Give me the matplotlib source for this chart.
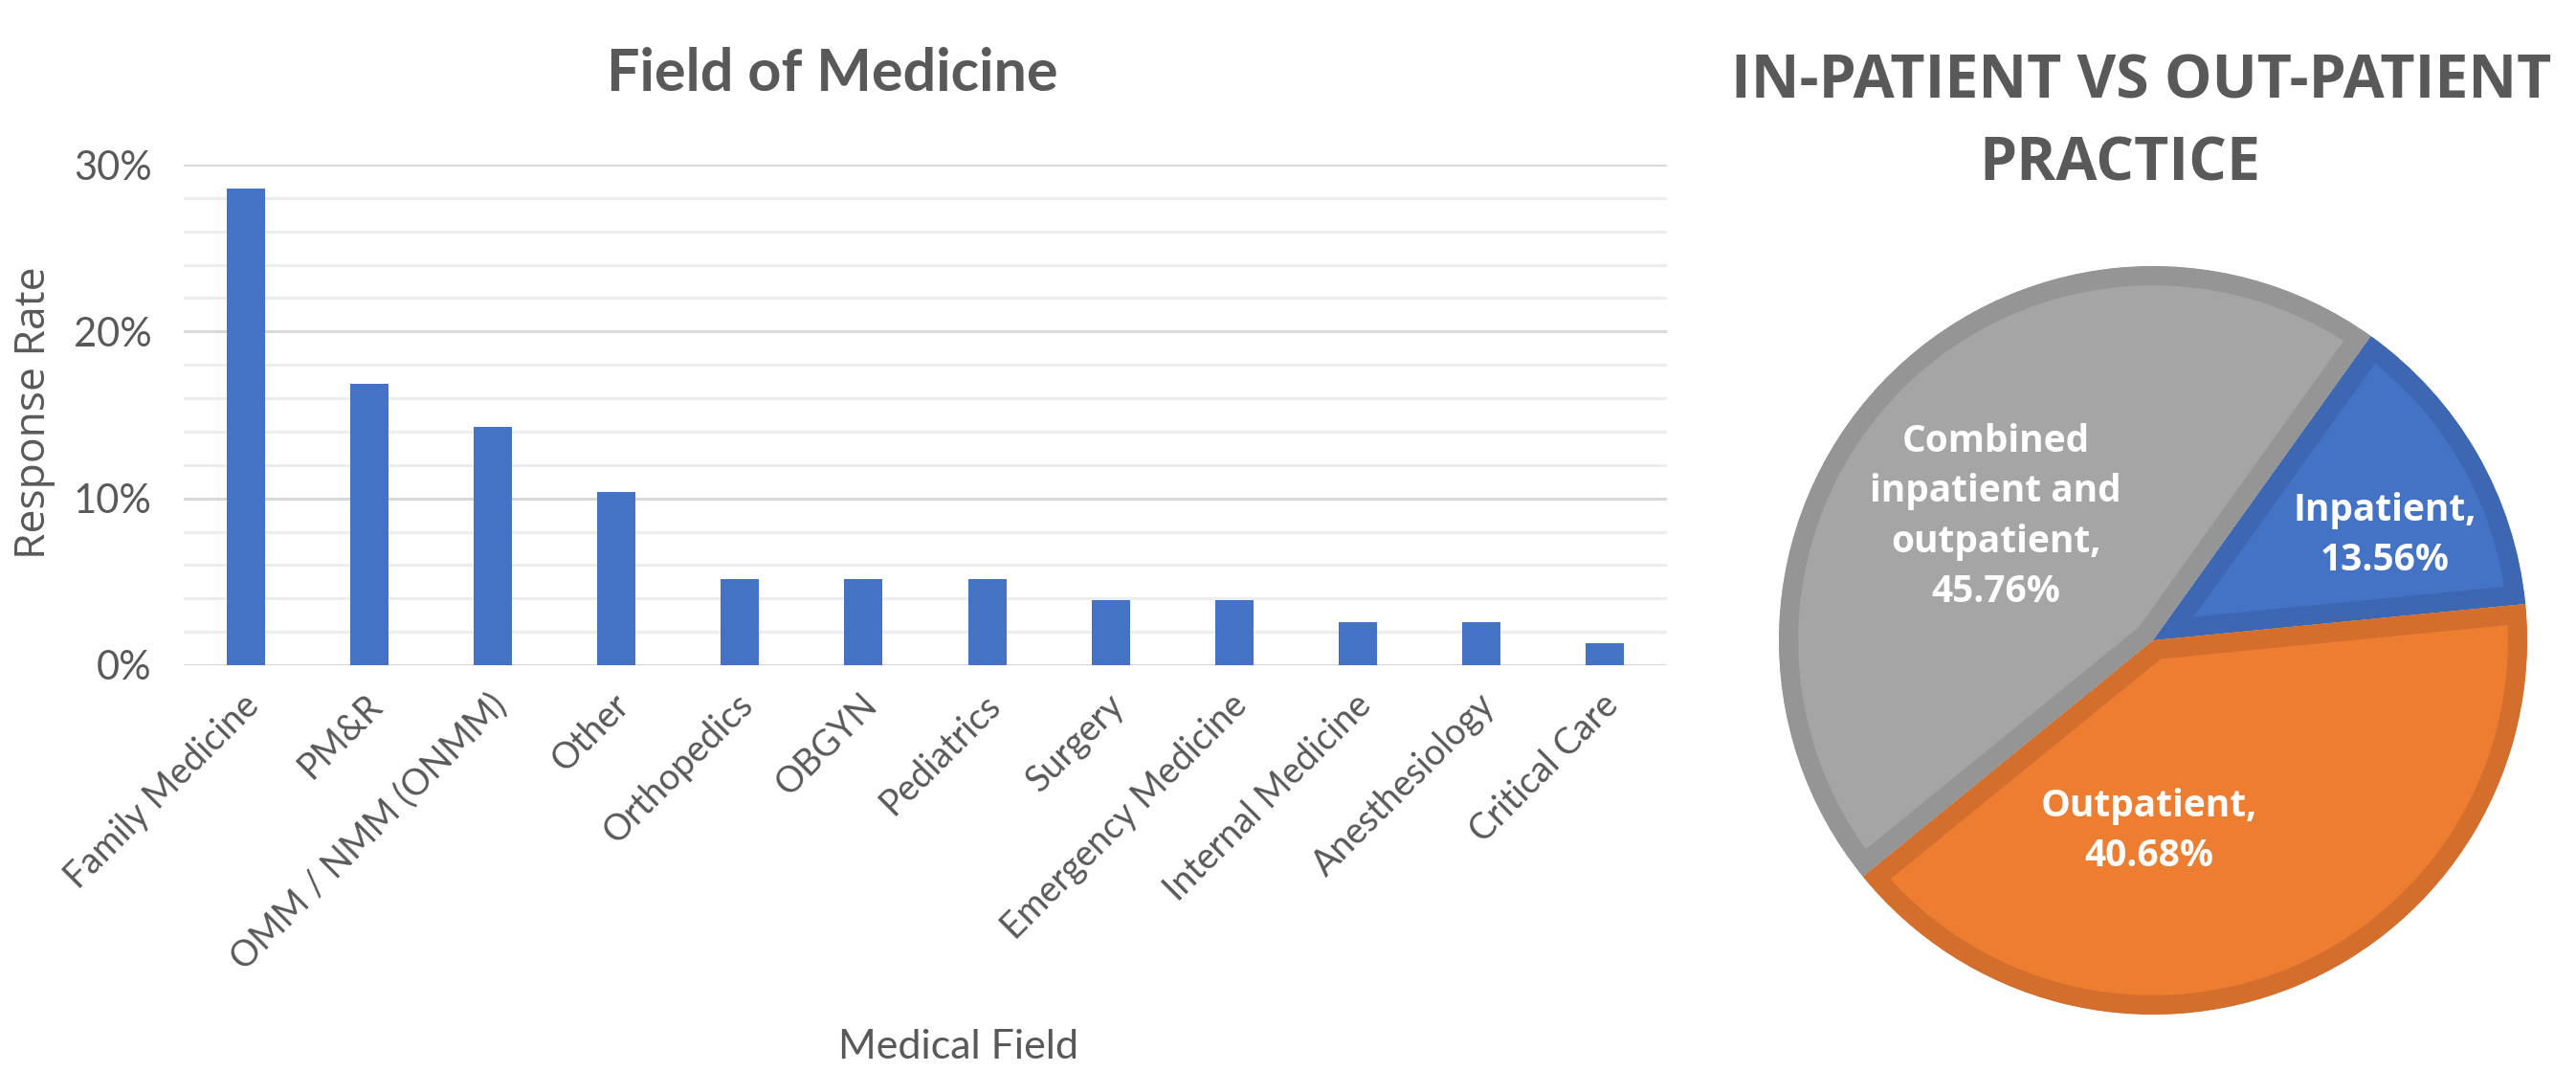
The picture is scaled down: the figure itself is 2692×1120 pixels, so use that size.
import matplotlib
matplotlib.use("Agg")
import matplotlib.pyplot as plt
from matplotlib.ticker import FixedLocator, MultipleLocator, FuncFormatter
from matplotlib.transforms import ScaledTranslation

# survey responses by specialty (% of respondents)
fields = ["Family Medicine", "PM&R", "OMM / NMM (ONMM)", "Other", "Orthopedics",
          "OBGYN", "Pediatrics", "Surgery", "Emergency Medicine",
          "Internal Medicine", "Anesthesiology", "Critical Care"]
field_share = [28.57, 16.88, 14.29, 10.39, 5.19, 5.19, 5.19, 3.90, 3.90, 2.60, 2.60, 1.30]

# practice setting split (%)
care_labels = ["Inpatient", "Outpatient", "Combined\ninpatient and\noutpatient"]
care_share = [13.56, 40.68, 45.76]

TEXT = "#595959"
BAR_BLUE = "#4472C4"
care_fill = ["#4472C4", "#ED7D31", "#A5A5A5"]
care_edge = ["#3D67B2", "#D46E2D", "#959595"]

W, H = 2692, 1120
fig = plt.figure(figsize=(W / 100, H / 100), dpi=100)
fig.patch.set_facecolor("white")


def px(x0, y0, x1, y1):
    # pixel box (top-left origin) -> figure fraction rect
    return [x0 / W, 1 - y1 / H, (x1 - x0) / W, (y1 - y0) / H]


# ---- bar chart ----
ax = fig.add_axes(px(192, 172, 1742, 695))
ax.bar(range(len(fields)), field_share, width=0.31, color=BAR_BLUE, zorder=3)
ax.set_xlim(-0.5, len(fields) - 0.5)
ax.set_ylim(0, 30)
ax.yaxis.set_major_locator(FixedLocator([0, 10, 20, 30]))
ax.yaxis.set_minor_locator(MultipleLocator(2))
ax.yaxis.set_major_formatter(FuncFormatter(lambda v, _: f"{v:.0f}%"))
ax.grid(axis="y", which="major", color="#D9D9D9", linewidth=2.2, zorder=0)
ax.grid(axis="y", which="minor", color="#EDEDED", linewidth=2.2, zorder=0)
for s in ax.spines.values():
    s.set_visible(False)
ax.tick_params(axis="both", which="both", length=0)
ax.tick_params(axis="y", pad=24, labelsize=30, labelcolor=TEXT)
ax.set_xticks(range(len(fields)))
ax.set_xticklabels(fields, rotation=45, ha="right", va="center",
                   rotation_mode="anchor", fontsize=27, color=TEXT,
                   family="Lato")
ax.tick_params(axis="x", pad=26)
# nudge the slanted labels so their ends sit just right of each bar
nudge = ScaledTranslation(8 / 100, 0, fig.dpi_scale_trans)
for lab in ax.get_xticklabels():
    lab.set_transform(lab.get_transform() + nudge)
for lab in ax.get_yticklabels():
    lab.set_family("Lato")

fig.text(870 / W, 1 - 77 / H, "Field of Medicine", ha="center", va="center",
         fontsize=44, fontweight="bold", color=TEXT, family="Lato")
fig.text(36 / W, 1 - 431 / H, "Response Rate", ha="center", va="center",
         rotation=90, fontsize=32, color=TEXT, family="Open Sans")
fig.text(1001 / W, 1 - 1094 / H, "Medical Field", ha="center", va="center",
         fontsize=31, color=TEXT, family="Lato")

# ---- pie chart ----
cx, cy, r = 2250, 669, 391
pax = fig.add_axes(px(cx - r, cy - r, cx + r, cy + r))
wedges, _ = pax.pie(care_share, colors=care_fill, startangle=54.4,
                    counterclock=False, radius=1, frame=False,
                    wedgeprops=dict(linewidth=29))
# darker rim kept inside each slice
for w, ec in zip(wedges, care_edge):
    w.set_edgecolor(ec)
    w.set_clip_path(w)
    w.set_clip_on(True)
pax.set_xlim(-1, 1)
pax.set_ylim(-1, 1)
pax.set_aspect("auto")
pax.axis("off")

label_pos = [(0.62, 0.28), (-0.01, -0.51), (-0.42, 0.33)]
for name, val, (lx, ly) in zip(care_labels, care_share, label_pos):
    pax.text(lx, ly, f"{name},\n{val:.2f}%", ha="center", va="center",
             color="white", fontsize=28, fontweight="bold",
             family="Open Sans", linespacing=1.45)

fig.text(2238 / W, 1 - 86 / H, "IN-PATIENT VS OUT-PATIENT",
         ha="center", va="center", fontsize=45, fontweight="bold",
         color=TEXT, family="Open Sans")
fig.text(2215 / W, 1 - 172 / H, "PRACTICE",
         ha="center", va="center", fontsize=45, fontweight="bold",
         color=TEXT, family="Open Sans")

fig.savefig("out.png", dpi=100, facecolor="white")
